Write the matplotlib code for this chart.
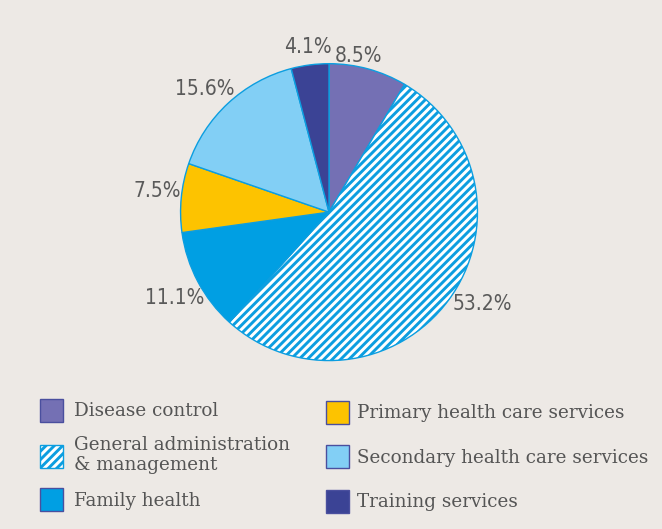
import matplotlib.pyplot as plt
from matplotlib.patches import Patch

# spending shares, clockwise from 12 o'clock
categories = ['Disease control', 'General administration\n& management', 'Family health',
              'Primary health care services', 'Secondary health care services', 'Training services']
shares = [8.5, 53.2, 11.1, 7.5, 15.6, 4.1]
colours = ['#7470b4', '#ffffff', '#009fe3', '#fdc300', '#82cff5', '#3b4395']
hatches = [None, '////', None, None, None, None]

# where the percentage labels sit (pie radius = 1)
label_xy = [(0.2, 1.05), (1.03, -0.62), (-1.04, -0.58), (-1.16, 0.14), (-0.84, 0.83), (-0.14, 1.11)]

bg = '#ede9e5'
edge = '#0c9ee0'
plt.rcParams['hatch.color'] = edge
plt.rcParams['hatch.linewidth'] = 2.1

fig = plt.figure(figsize=(6.62, 5.29), dpi=100, facecolor=bg)
ax = fig.add_axes([0.275, 0.321, 0.444, 0.556])
ax.set_facecolor(bg)

wedges, texts = ax.pie(shares, colors=colours, startangle=90, counterclock=False,
                       labels=[f'{s}%' for s in shares],
                       wedgeprops=dict(edgecolor=edge, linewidth=1.0),
                       textprops=dict(family='DejaVu Sans', stretch='condensed',
                                      fontsize=15, color='#5a5a5a'))
for w, h in zip(wedges, hatches):
    if h:
        w.set_hatch(h)
for t, xy in zip(texts, label_xy):
    t.set_position(xy)
    t.set_horizontalalignment('center')
    t.set_verticalalignment('center')
ax.set_xlim(-0.99, 0.99)
ax.set_ylim(-0.99, 0.99)
ax.set_aspect('equal')
ax.axis('off')

handles = []
for c, h in zip(colours, hatches):
    handles.append(Patch(facecolor=c, hatch=h, edgecolor=edge if h else '#4a4f9e', linewidth=1.0))

legend_font = dict(family='DejaVu Serif', size=13.2)
leg1 = fig.legend(handles[:3], categories[:3], loc='upper left', bbox_to_anchor=(0.036, 0.277),
                  frameon=False, prop=legend_font, labelcolor='#555555',
                  handlelength=1.25, handleheight=1.55, handletextpad=0.6, labelspacing=0.75)
leg2 = fig.legend(handles[3:], categories[3:], loc='upper left', bbox_to_anchor=(0.468, 0.274),
                  frameon=False, prop=legend_font, labelcolor='#555555',
                  handlelength=1.25, handleheight=1.55, handletextpad=0.45, labelspacing=1.18)

fig.savefig('out.png', dpi=100, facecolor=bg)
